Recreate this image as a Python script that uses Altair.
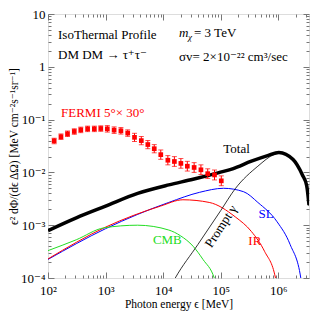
import altair as alt
import pandas as pd

# ---------------- data ----------------
fermi_E = [128, 168, 218, 286, 371, 487, 638, 825, 1071, 1406, 1845, 2421, 3177,
           4169, 5410, 6996, 9078, 12050, 15640, 20280, 26230, 34440, 45190,
           59300, 77800, 102000]
fermi_F = [0.0396, 0.0475, 0.054, 0.0596, 0.064, 0.0669, 0.0669, 0.0678, 0.0669,
           0.0632, 0.0614, 0.0556, 0.0461, 0.040, 0.0337, 0.0281, 0.0217, 0.0170,
           0.0161, 0.0148, 0.0131, 0.0124, 0.0112, 0.00946, 0.00895, 0.00692]
fermi_lo = [0.0350, 0.0420, 0.0478, 0.0527, 0.0566, 0.0592, 0.0592, 0.0600, 0.0580,
            0.0548, 0.0532, 0.0482, 0.0385, 0.0334, 0.0281, 0.0235, 0.0177, 0.0139,
            0.0130, 0.0120, 0.0106, 0.0100, 0.0091, 0.0077, 0.0072, 0.0056]
fermi_hi = [0.0445, 0.0535, 0.0608, 0.0670, 0.0720, 0.0752, 0.0752, 0.0762, 0.0770,
            0.0728, 0.0707, 0.0640, 0.0550, 0.0478, 0.0402, 0.0336, 0.0266, 0.0208,
            0.0199, 0.0183, 0.0162, 0.0153, 0.0139, 0.0117, 0.0111, 0.0086]

total_E = [100, 310, 1000, 3600, 12500, 33000, 9.3e4, 1.6e5, 3.4e5, 6.5e5, 1.02e6,
           1.8e6, 2.6e6, 3.1e6, 3.4e6]
total_F = [7.9e-4, 1.38e-3, 2.3e-3, 4.0e-3, 5.8e-3, 7.4e-3, 9.9e-3, 0.0117, 0.0163,
           0.0208, 0.0239, 0.0175, 0.0090, 0.0056, 0.0024]

sl_E = [100, 1000, 12500, 43000, 1.12e5, 2.5e5, 4.4e5, 9.5e5, 1.6e6, 2.45e6, 2.6e6]
sl_F = [2.25e-4, 8.6e-4, 2.7e-3, 4.2e-3, 5.0e-3, 4.3e-3, 2.7e-3, 1.16e-3, 4.3e-4,
        1.0e-4, 6e-5]

ir_E = [100, 1000, 9000, 22000, 63000, 1.78e5, 3.4e5, 5.75e5, 8.9e5, 9.6e5]
ir_F = [2.3e-4, 9.2e-4, 2.3e-3, 3.03e-3, 2.7e-3, 1.44e-3, 7.6e-4, 3.2e-4, 1.0e-4, 6e-5]

cmb_E = [100, 310, 930, 3600, 12500, 20000, 33000, 49000, 77000, 85000]
cmb_F = [3.3e-4, 5.3e-4, 8.9e-4, 1.0e-3, 8.1e-4, 6.3e-4, 4.0e-4, 2.25e-4, 1.0e-4, 7e-5]

prompt_E = [14000, 16200, 40000, 1.0e5, 1.78e5, 4.4e5, 8.5e5, 1.05e6, 1.8e6, 2.6e6,
            3.1e6, 3.4e6]
prompt_F = [7.5e-5, 1.0e-4, 4.3e-4, 1.9e-3, 4.9e-3, 0.0131, 0.0219, 0.0232, 0.0168,
            0.0086, 0.0053, 0.0023]

x_major = [1e2, 1e3, 1e4, 1e5, 1e6]
x_minor = [m * 10 ** k for k in range(2, 7) for m in range(2, 10) if m * 10 ** k <= 3.4e6]
y_major = [1e-4, 1e-3, 1e-2, 1e-1, 1, 10]
y_minor = [m * 10.0 ** k for k in range(-4, 1) for m in range(2, 10)]

curve_labels = ["Total", "SL", "IR", "CMB", "Prompt γ"]
label_E = [1.88e5, 6.1e5, 3.9e5, 1.18e4, 1.01e5]
label_F = [0.0272, 1.6e-3, 5.1e-4, 5.3e-4, 9.5e-4]
label_colors = ["black", "#0000ff", "#ff0000", "#22dd22", "black"]
label_angles = [0, 0, 0, 0, 303]

# ---------------- chart ----------------
W, H = 261, 264
FONT = "Liberation Serif, Times New Roman, DejaVu Serif, serif"
AXC = "#777777"
xs = alt.Scale(type="log", domain=[100, 3.4e6], nice=False)
ys = alt.Scale(type="log", domain=[1e-4, 10], nice=False)

x_lab = ("'10' + (datum.value < 500 ? '²' : datum.value < 5000 ? '³' : "
         "datum.value < 50000 ? '⁴' : datum.value < 500000 ? '⁵' : '⁶')")
y_lab = ("datum.value > 5 ? '10' : datum.value > 0.5 ? '1' : datum.value > 0.05 ? '10⁻¹' : "
         "datum.value > 0.005 ? '10⁻²' : datum.value > 0.0005 ? '10⁻³' : '10⁻⁴'")

x_main = alt.Axis(values=x_major, labelExpr=x_lab, ticks=False, domain=False, grid=False,
                  title="Photon energy ϵ [MeV]", labelFont=FONT, labelFontSize=13,
                  labelColor="black", titleFont=FONT, titleFontSize=11.5,
                  titleFontWeight="normal", titleColor="black", labelPadding=6,
                  titlePadding=1, labelFlush=False)
y_main = alt.Axis(values=y_major, labelExpr=y_lab, ticks=False, domain=False, grid=False,
                  title="ϵ² dΦ/(dϵ ΔΩ) [MeV cm⁻²s⁻¹sr⁻¹]", labelFont=FONT,
                  labelFontSize=13, labelColor="black", titleFont=FONT,
                  titleFontSize=11.5, titleFontWeight="normal", titleColor="black",
                  labelPadding=3, titlePadding=1, labelFlush=False)


def tick_axis(orient, values, size, offset):
    return alt.Axis(orient=orient, values=values, labels=False, domain=False, grid=False,
                    ticks=True, tickSize=size, tickColor=AXC, tickWidth=1, title=None,
                    offset=offset)


def curve(E, F, color, width, xa, ya):
    df = pd.DataFrame({"E": E, "F": F})
    return alt.Chart(df).mark_line(color=color, strokeWidth=width, clip=True,
                                   interpolate="monotone").encode(
        x=alt.X("E:Q", scale=xs, axis=xa),
        y=alt.Y("F:Q", scale=ys, axis=ya),
    )


cmb = curve(cmb_E, cmb_F, "#22dd22", 1, tick_axis("bottom", x_major, 6, -H),
            tick_axis("left", y_major, 6, -W))
ir = curve(ir_E, ir_F, "#ff0000", 1, tick_axis("top", x_minor, 3, -H),
           tick_axis("right", y_minor, 3, -W))
sl = curve(sl_E, sl_F, "#0000ff", 1, tick_axis("top", x_major, 6, -H),
           tick_axis("right", y_major, 6, -W))
prompt = curve(prompt_E, prompt_F, "black", 0.8, tick_axis("bottom", x_minor, 3, -H),
               tick_axis("left", y_minor, 3, -W))
total = curve(total_E, total_F, "black", 3.5, x_main, y_main)

fdf = pd.DataFrame({"E": fermi_E, "F": fermi_F, "lo": fermi_lo, "hi": fermi_hi})
fbase = alt.Chart(fdf)
err = fbase.mark_rule(color="#ff0000", strokeWidth=1).encode(
    x=alt.X("E:Q", scale=xs, axis=None), y=alt.Y("lo:Q", scale=ys, axis=None), y2="hi:Q")
cap_lo = fbase.mark_tick(color="#ff0000", orient="horizontal", size=5, thickness=1).encode(
    x=alt.X("E:Q", scale=xs, axis=None), y=alt.Y("lo:Q", scale=ys, axis=None))
cap_hi = fbase.mark_tick(color="#ff0000", orient="horizontal", size=5, thickness=1).encode(
    x=alt.X("E:Q", scale=xs, axis=None), y=alt.Y("hi:Q", scale=ys, axis=None))
pts = fbase.mark_square(color="#ff0000", size=22, opacity=1).encode(
    x=alt.X("E:Q", scale=xs, axis=None), y=alt.Y("F:Q", scale=ys, axis=None))

ldf = pd.DataFrame({"E": label_E, "F": label_F, "t": curve_labels, "c": label_colors,
                    "a": label_angles})
labels = alt.Chart(ldf).mark_text(font=FONT, fontSize=13, align="center",
                                  baseline="middle").encode(
    x=alt.X("E:Q", scale=xs, axis=None), y=alt.Y("F:Q", scale=ys, axis=None),
    text="t:N", color=alt.Color("c:N", scale=None), angle=alt.Angle("a:Q", scale=None))


def note(txt, x, y, color="black", size=13, style="normal"):
    return alt.Chart(pd.DataFrame({"t": [txt]})).mark_text(
        font=FONT, fontSize=size, align="left", baseline="middle", color=color,
        fontStyle=style).encode(x=alt.value(x), y=alt.value(y), text="t:N")


notes = [
    note("IsoThermal Profile", 10, 21),
    note("DM DM → τ⁺τ⁻", 10, 41),
    note("m", 131, 19, style="italic"),
    note("χ", 140, 23, size=9, style="italic"),
    note("= 3 TeV", 146, 19),
    note("σv= 2×10⁻²² cm³/sec", 131, 43),
    note("FERMI 5°× 30°", 13, 99, color="#ff0000"),
]

chart = alt.layer(
    total, sl, ir, cmb, prompt, err, cap_lo, cap_hi, pts, labels, *notes
).resolve_axis(x="independent", y="independent").properties(
    width=W, height=H,
    autosize=alt.AutoSizeParams(type="none"),
    padding={"left": 40, "top": 6, "right": 1, "bottom": 33},
).configure_view(stroke=AXC, strokeWidth=1).configure(background="white")

chart.save("out.html", embed_options={"renderer": "svg", "actions": False})
